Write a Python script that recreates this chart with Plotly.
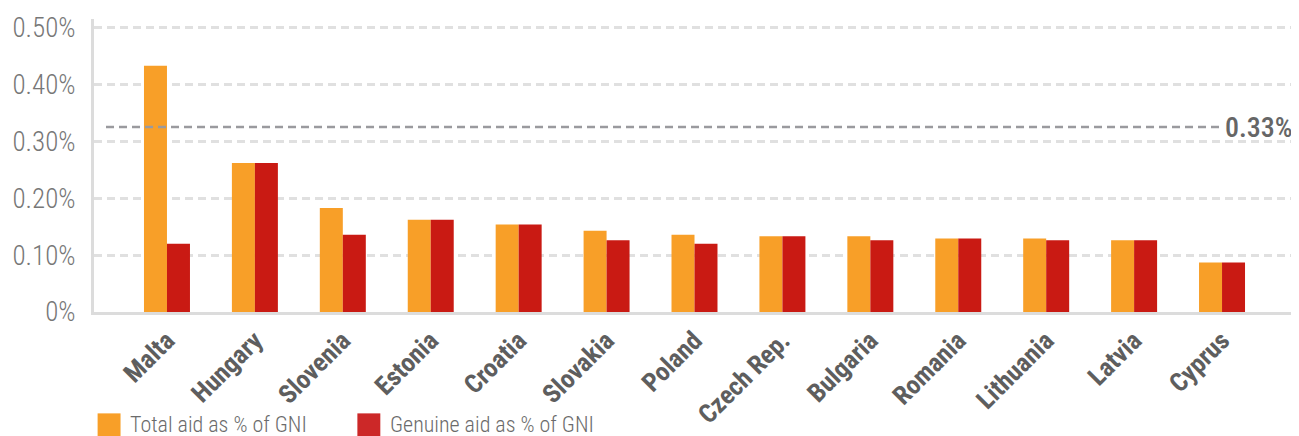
import plotly.graph_objects as go

# ── Data (aid as % of GNI) ───────────────────────────────────────────────────
countries = [
    "Malta", "Hungary", "Slovenia", "Estonia", "Croatia", "Slovakia", "Poland",
    "Czech Rep.", "Bulgaria", "Romania", "Lithuania", "Latvia", "Cyprus",
]
total_aid = [0.433, 0.262, 0.183, 0.162, 0.154, 0.143, 0.136,
             0.133, 0.133, 0.129, 0.129, 0.126, 0.087]
genuine_aid = [0.120, 0.262, 0.136, 0.162, 0.154, 0.126, 0.120,
               0.133, 0.126, 0.129, 0.126, 0.126, 0.087]
target_value = 0.325
target_label = "0.33%"
y_ticks = [0, 0.1, 0.2, 0.3, 0.4, 0.5]
y_tick_labels = ["0%", "0.10%", "0.20%", "0.30%", "0.40%", "0.50%"]
legend_names = ["Total aid as % of GNI", "Genuine aid as % of GNI"]

ORANGE = "#f89f28"
RED = "#c91a13"
FONT = "Liberation Sans Narrow, Roboto Condensed, Arial Narrow, Roboto, sans-serif"

fig = go.Figure()
fig.add_bar(x=countries, y=total_aid, name=legend_names[0],
            marker=dict(color=ORANGE, line=dict(width=0)))
fig.add_bar(x=countries, y=genuine_aid, name=legend_names[1],
            marker=dict(color=RED, line=dict(width=0)))

# ── Target line ──────────────────────────────────────────────────────────────
fig.add_shape(type="line", xref="paper", yref="y",
              x0=0.01, x1=0.938, y0=target_value, y1=target_value,
              line=dict(color="#9a9a9e", width=2.5, dash="8px,5px"))
fig.add_annotation(xref="paper", yref="y", x=0.94, y=target_value,
                   text=target_label, showarrow=False, xanchor="left",
                   yanchor="middle",
                   font=dict(family=FONT, size=28, color="#666666", weight=500))

# ── Custom legend (big square swatches) ─────────────────────────────────────
for i, (name, col) in enumerate(zip(legend_names, [ORANGE, "#cc2828"])):
    x0 = 0.003 + i * 0.2163
    fig.add_shape(type="rect", xref="paper", yref="paper",
                  x0=x0, x1=x0 + 0.0191, y0=-0.346, y1=-0.424,
                  fillcolor=col, line=dict(width=0))
    fig.add_annotation(xref="paper", yref="paper", x=x0 + 0.0255, y=-0.385,
                       text=name, showarrow=False, xanchor="left",
                       yanchor="middle",
                       font=dict(family=FONT, size=22, color="#6b6b6b", weight=300))

# page has an 8px body margin, so the figure is 8px smaller than the window
fig.update_layout(
    width=1291, height=428,
    margin=dict(l=85, r=4, t=9, b=124),
    paper_bgcolor="white", plot_bgcolor="white",
    barmode="group", bargap=0.477, bargroupgap=0,
    showlegend=False,
    font=dict(family=FONT),
    xaxis=dict(
        range=[-0.83, 12.83],
        tickangle=-45,
        tickfont=dict(family=FONT, size=26, color="#5e5e5e", weight="bold"),
        showline=True, linecolor="#dcdcdc", linewidth=3,
        showgrid=False, ticks="",
    ),
    yaxis=dict(
        range=[0, 0.515],
        tickvals=y_ticks, ticktext=y_tick_labels,
        tickfont=dict(family=FONT, size=27, color="#777777", weight=300),
        showline=True, linecolor="#dcdcdc", linewidth=3,
        showgrid=True, gridcolor="#e0e0e0", gridwidth=2.5, griddash="8px,5px",
        zeroline=False, ticks="", ticklabelstandoff=10,
    ),
)

fig.write_html("out.html")
